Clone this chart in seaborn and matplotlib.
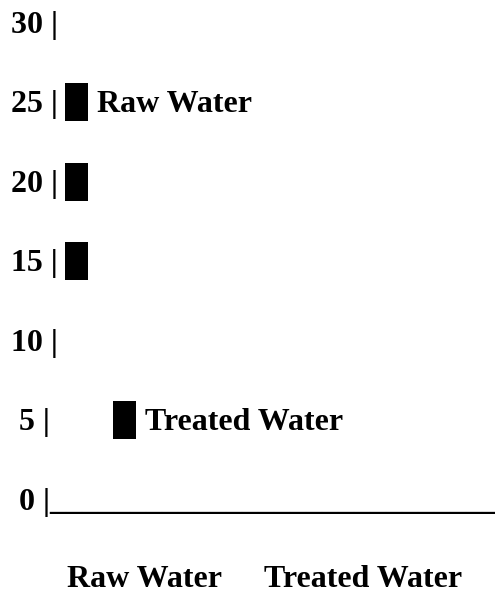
import pandas as pd
import seaborn as sns
import matplotlib.pyplot as plt

# chart values
categories = ["Raw Water", "Treated Water"]
tick_values = [30, 25, 20, 15, 10, 5, 0]
raw_water_levels = [25, 20, 15]
treated_water_levels = [5]

# layout (pixel columns on a 495 px wide canvas)
block_x = {"Raw Water": 76.5, "Treated Water": 124.5}
label_x = {"Raw Water": 97, "Treated Water": 145}
axis_label_x = {"Raw Water": 67, "Treated Water": 264}
text_left = 11
baseline_shift = 0.63  # text baseline sits a bit below the block centre

sns.set_style("white")
plt.rcParams["font.family"] = ["Liberation Serif", "DejaVu Serif"]

df = pd.DataFrame({
    "series": ["Raw Water"] * len(raw_water_levels) + ["Treated Water"] * len(treated_water_levels),
    "level": raw_water_levels + treated_water_levels,
})
df["col"] = df["series"].map(block_x)

fig = plt.figure(figsize=(4.95, 5.94), dpi=100)
ax = fig.add_axes([0, 0, 1, 1])

# solid blocks, 23 x 38 px
block = [(-11.5, -19), (11.5, -19), (11.5, 19), (-11.5, 19), (-11.5, -19)]
sns.scatterplot(data=df, x="col", y="level", marker=block, s=748,
                color="black", edgecolor="none", linewidth=0, ax=ax, legend=False)

font = dict(family=["Liberation Serif", "DejaVu Serif"], fontweight="bold",
            fontsize=23, va="baseline", ha="left", color="black")

# y "axis" rows
for v in tick_values:
    txt = f"{v:>2} |"
    if v == 0:
        txt += "_" * 28
    ax.text(text_left, v - baseline_shift, txt, **font)

# series labels next to the highest block
for name, levels in [("Raw Water", raw_water_levels), ("Treated Water", treated_water_levels)]:
    ax.text(label_x[name], max(levels) - baseline_shift, name, **font)

# category labels under the baseline
for name in categories:
    ax.text(axis_label_x[name], -5 - baseline_shift + 0.15, name, **font)

ax.set_xlim(0, 495)
ax.set_ylim(-5.94, 31.415)
ax.axis("off")

fig.savefig("out.png", dpi=100)
